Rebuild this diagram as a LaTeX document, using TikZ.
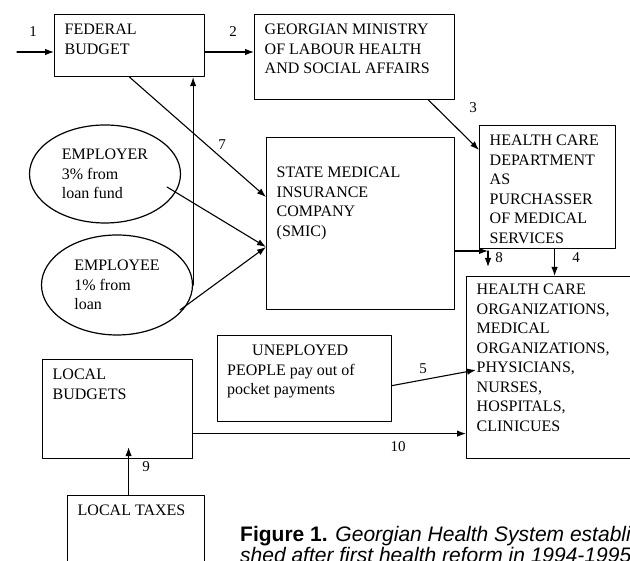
\documentclass[tikz,border=0pt]{standalone}
\usepackage{fontspec}
\setmainfont{Liberation Serif}
\newfontfamily\capfont{Liberation Sans}
\usetikzlibrary{arrows.meta,shapes.geometric}
\newcommand{\bxfont}{\fontsize{16}{19.5}\selectfont}
\begin{document}
\begin{tikzpicture}[x=1pt,y=1pt,>={Latex[length=9pt,width=6.5pt]}, line join=round, line cap=round]
	\tikzset{
		box/.style={draw, line width=1.2pt, rectangle, inner sep=0pt, anchor=north west},
		txt/.style={align=left, inner xsep=10.5pt, inner ysep=10pt, anchor=north west, font=\bxfont},
		oval/.style={draw, ellipse, line width=1.2pt, align=left, inner sep=0pt, font=\bxfont},
		arr/.style={->, line width=1.1pt},
		num/.style={font=\fontsize{15}{17}\selectfont, inner sep=1pt},
		capt/.style={font=\capfont\fontsize{21}{21.5}\selectfont, align=left, inner sep=0pt, anchor=north west}
	}
	\useasboundingbox (0,0) rectangle (630,561);
	\clip (0,0) rectangle (630,561);
	% boxes
	\node[box, minimum width=150pt, minimum height=62pt, label={[txt]north west:FEDERAL\\BUDGET}] (fed) at (54,547) {};
	\node[box, minimum width=200pt, minimum height=85pt, label={[txt]north west:GEORGIAN MINISTRY\\OF LABOUR HEALTH\\AND SOCIAL AFFAIRS}] (min) at (254,547) {};
	\node[box, minimum width=136pt, minimum height=123pt, label={[txt]north west:HEALTH CARE\\DEPARTMENT\\AS\\PURCHASSER\\OF MEDICAL\\SERVICES}] (hcd) at (479,436) {};
	\node[box, minimum width=188pt, minimum height=172pt, label={[txt, yshift=-20pt]north west:STATE MEDICAL\\INSURANCE\\COMPANY\\(SMIC)}] (smic) at (266,424) {};
	\node[box, minimum width=174pt, minimum height=182pt, label={[txt, inner ysep=8pt]north west:HEALTH CARE\\ORGANIZATIONS,\\MEDICAL\\ORGANIZATIONS,\\PHYSICIANS,\\NURSES,\\HOSPITALS,\\CLINICUES}] (hco) at (466,285) {};
	\node[box, minimum width=174pt, minimum height=86pt, label={[txt, inner xsep=10pt]north west:\hspace*{25pt}UNEPLOYED\\PEOPLE pay out of\\pocket payments}] (unemp) at (217,226) {};
	\node[box, minimum width=150pt, minimum height=99pt, label={[txt]north west:LOCAL\\BUDGETS}] (lb) at (42,202) {};
	\node[box, minimum width=137pt, minimum height=110pt, label={[txt]north west:LOCAL TAXES}] (lt) at (67,66) {};
	% ovals
	\node[oval, minimum width=151pt, minimum height=98pt] (emp1) at (105,387) {EMPLOYER\\3\% from\\loan fund};
	\node[oval, minimum width=151pt, minimum height=100pt] (emp2) at (117,276) {EMPLOYEE\\1\% from\\loan};
	% flows
	\coordinate (in1) at (17,509);
	\coordinate (c8) at (488,310);
	\coordinate (t9) at ([xshift=-7.5pt]lt.north);
	\draw[arr] (in1) -- (fed.west |- in1);
	\draw[arr] (fed.east |- in1) -- (min.west |- in1);
	\draw[arr] ([xshift=74pt]min.south) -- ([yshift=-25pt]hcd.north west);
	\draw[arr] ([xshift=7pt]hcd.south) -- ([xshift=7pt]hcd.south |- hco.north);
	\draw[arr] (smic.east |- c8) -- (c8);
	\draw[arr] (c8) -- ([yshift=9pt]c8 |- hco.north);
	\draw[arr] ([yshift=-7pt]unemp.east) -- ([xshift=10pt,yshift=-94pt]hco.north west);
	\draw[arr] ([yshift=-24.5pt]lb.east) -- ([yshift=-24.5pt]lb.east -| hco.west);
	\draw[arr] (t9) -- ([yshift=12pt]t9 |- lb.south);
	\draw[arr] (emp2.east) -- (emp2.east |- fed.south);
	\draw[arr] (fed.south) -- ([yshift=-60pt]smic.north west);
	\draw[arr] ([shift={(62pt,-13pt)}]emp1.center) -- ([yshift=-110pt]smic.north west);
	\draw[arr] ([shift={(63pt,-25pt)}]emp2.center) -- ([yshift=-110pt]smic.north west);
	% numbers
	\node[num] (n1) at (33,529) {1};
	\node[num] (n2) at (233,529) {2};
	\node[num] (n3) at (473,453) {3};
	\node[num] (n4) at (576,303) {4};
	\node[num] (n5) at (423,192) {5};
	\node[num] (n7) at (222,416) {7};
	\node[num] (n8) at (499,303) {8};
	\node[num] (n9) at (146,94) {9};
	\node[num] (n10) at (398,114) {10};
	% caption
	\node[capt] (cap) at (240,35) {\textbf{Figure 1.} \textit{Georgian Health System establi}\\\textit{shed after first health reform in 1994-1995}};
\end{tikzpicture}
\end{document}
